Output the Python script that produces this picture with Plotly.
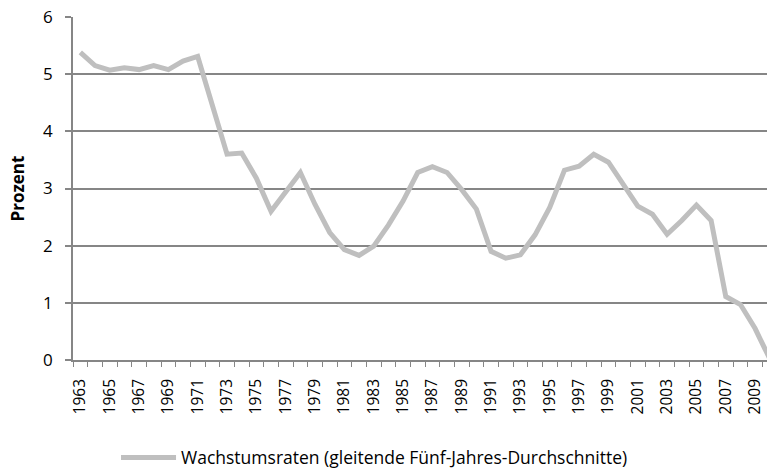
import plotly.graph_objects as go

years = list(range(1963, 2011))
growth = [5.38, 5.15, 5.07, 5.11, 5.08, 5.15, 5.08, 5.23, 5.31, 4.47,
          3.60, 3.62, 3.18, 2.60, 2.95, 3.28, 2.72, 2.23, 1.93, 1.83,
          1.99, 2.36, 2.78, 3.28, 3.38, 3.28, 2.98, 2.64, 1.90, 1.78,
          1.84, 2.19, 2.67, 3.32, 3.39, 3.60, 3.46, 3.06, 2.69, 2.55,
          2.20, 2.44, 2.71, 2.44, 1.11, 0.97, 0.55, 0.02]
tick_years = list(range(1963, 2010, 2))
tick_labels = [str(y) for y in tick_years]
series_name = "Wachstumsraten (gleitende Fünf-Jahres-Durchschnitte)"

FONT = "Open Sans"
GRID = "#868686"

fig = go.Figure()
fig.add_trace(go.Scatter(
    x=years, y=growth, mode="lines", name=series_name,
    line=dict(color="#BFBFBF", width=5),
))

fig.update_layout(
    width=767, height=476,
    margin=dict(l=73, r=0, t=17, b=105),
    paper_bgcolor="white", plot_bgcolor="white",
    font=dict(family=FONT, size=15.5, color="black"),
    showlegend=True,
    legend=dict(orientation="h", x=0.062, xanchor="left", y=-0.232, yanchor="top",
                itemwidth=55, font=dict(size=17.5), bgcolor="rgba(0,0,0,0)"),
)
fig.update_xaxes(
    range=[1962.5, 2009.81], automargin=False,
    tickmode="array", tickvals=tick_years, ticktext=tick_labels,
    tickangle=-90, ticks="", showgrid=False,
    showline=True, linecolor=GRID, linewidth=1.5,
    minor=dict(tickmode="linear", tick0=1962.5, dtick=1, ticks="outside",
               ticklen=5, tickcolor=GRID, tickwidth=1, showgrid=False),
    ticklabelstandoff=11,
    zeroline=False,
)
fig.update_yaxes(
    range=[0, 6], tickmode="linear", tick0=0, dtick=1, automargin=False,
    ticks="outside", ticklen=6, tickcolor=GRID, tickwidth=1.5,
    showgrid=True, gridcolor=GRID, gridwidth=1.5,
    showline=True, linecolor=GRID, linewidth=1.5,
    zeroline=False, ticklabelstandoff=9, tickfont=dict(size=17),
    title=dict(text="<b>Prozent</b>", standoff=14, font=dict(size=17)),
)

fig.write_html(
    "out.html",
    config={"displayModeBar": False},
    post_script="document.body.style.margin='0px';document.body.style.padding='0px';",
)
